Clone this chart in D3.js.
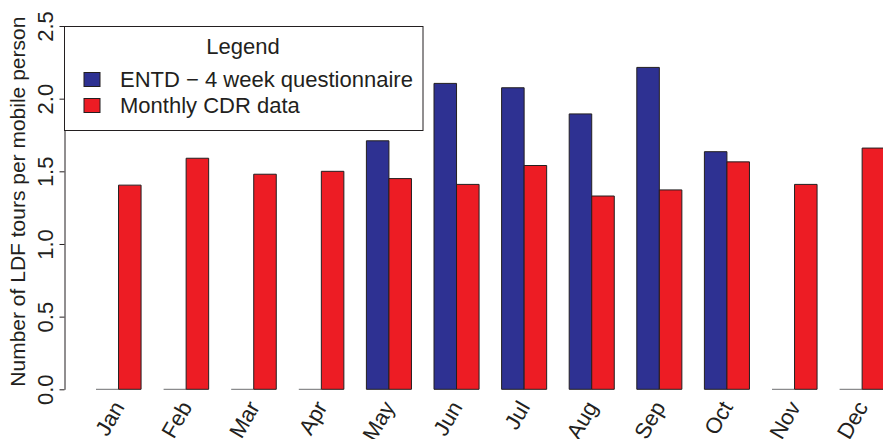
<!DOCTYPE html>
<html>
<head>
<meta charset="utf-8">
<script src="https://cdn.jsdelivr.net/npm/d3@7"></script>
<style>
  html, body { margin: 0; padding: 0; background: #fff; }
  svg { display: block; font-family: "Liberation Sans", Arial, Helvetica, sans-serif; }
</style>
</head>
<body>
<svg id="chart" width="883" height="439"></svg>
<script>
// Monthly long-distance-travel tours per mobile person
const months = ["Jan", "Feb", "Mar", "Apr", "May", "Jun", "Jul", "Aug", "Sep", "Oct", "Nov", "Dec"];
const seriesNames = ["ENTD \u2212 4 week questionnaire", "Monthly CDR data"];
const entdValues = [0, 0, 0, 0, 1.71, 2.105, 2.075, 1.895, 2.215, 1.635, 0, 0];
const cdrValues = [1.405, 1.59, 1.48, 1.50, 1.45, 1.41, 1.54, 1.33, 1.372, 1.565, 1.41, 1.66];
const yTicks = [0, 0.5, 1.0, 1.5, 2.0, 2.5];
const colors = ["#2e3192", "#ed1c24"];

const svg = d3.select("#chart");
const ink = "#231f20";
const fontSize = 22;

// layout
const axisX = 64.5;
const yTop = 26, yBottom = 389.3;
const step = 67.6;
const firstBand = 96;

const y = d3.scaleLinear().domain([0, 2.5]).range([yBottom, yTop]);

// grouped bars: band per month (two bars wide) with one bar of gap
const x = d3.scaleBand()
  .domain(months)
  .paddingInner(1 / 3)
  .paddingOuter(0.5)
  .range([firstBand - 0.5 * step, firstBand - 0.5 * step + step * (months.length - 1 / 3 + 1)]);

const xSub = d3.scaleBand().domain([0, 1]).range([0, x.bandwidth()]);

const rows = months.map((m, i) => ({ month: m, values: [entdValues[i], cdrValues[i]] }));

const groups = svg.append("g").selectAll("g")
  .data(rows).join("g")
  .attr("transform", d => `translate(${x(d.month)},0)`);

groups.selectAll("path")
  .data(d => d.values.map((v, k) => ({ v, k })))
  .join("path")
  .attr("d", d => {
    const x0 = xSub(d.k), x1 = x0 + xSub.bandwidth();
    const p = d3.path();
    if (d.v === 0) {
      p.moveTo(x0, y(0));
      p.lineTo(x1, y(0));
    } else {
      p.rect(x0, y(d.v), x1 - x0, y(0) - y(d.v));
    }
    return p.toString();
  })
  .attr("fill", d => d.v === 0 ? "none" : colors[d.k])
  .attr("stroke", d => d.v === 0 ? "#6d6e71" : ink)
  .attr("stroke-width", 1);

// y axis
const yAxis = svg.append("g")
  .attr("transform", `translate(${axisX},0)`)
  .call(d3.axisLeft(y).tickValues(yTicks).tickFormat(d3.format(".1f")).tickSize(5).tickSizeOuter(0));
yAxis.select(".domain").attr("stroke", ink);
yAxis.selectAll(".tick line").attr("stroke", ink);
yAxis.selectAll(".tick text")
  .attr("fill", ink)
  .attr("font-size", fontSize)
  .attr("x", null).attr("dy", null)
  .attr("text-anchor", "middle")
  .attr("transform", "translate(-11.5,0) rotate(-90)");

// y title
svg.append("text")
  .attr("transform", `translate(25,${(yTop + yBottom) / 2 - 6}) rotate(-90)`)
  .attr("text-anchor", "middle")
  .attr("font-size", 21)
  .attr("fill", ink)
  .text("Number of LDF tours per mobile person");

// month labels, slanted
svg.append("g").selectAll("text")
  .data(months).join("text")
  .attr("transform", d => `translate(${x(d) + x.bandwidth() / 2},${403}) rotate(-60)`)
  .attr("text-anchor", "end")
  .attr("dy", "0.35em")
  .attr("font-size", fontSize)
  .attr("fill", ink)
  .text(d => d);

// legend
const legend = svg.append("g");
legend.append("rect")
  .attr("x", axisX).attr("y", y(2.5) + 0.5)
  .attr("width", 423 - axisX).attr("height", 104)
  .attr("fill", "#fff").attr("stroke", ink).attr("stroke-width", 1);
legend.append("text")
  .attr("x", 243).attr("y", 46.7).attr("dy", "0.35em")
  .attr("text-anchor", "middle").attr("font-size", fontSize).attr("fill", ink)
  .text("Legend");
seriesNames.forEach((name, k) => {
  const cy = 79.5 + k * 26;
  legend.append("rect")
    .attr("x", 84).attr("y", cy - 7).attr("width", 16).attr("height", 14)
    .attr("fill", colors[k]).attr("stroke", ink).attr("stroke-width", 1);
  legend.append("text")
    .attr("x", 120).attr("y", cy).attr("dy", "0.35em")
    .attr("font-size", fontSize).attr("fill", ink)
    .text(name);
});
</script>
</body>
</html>
